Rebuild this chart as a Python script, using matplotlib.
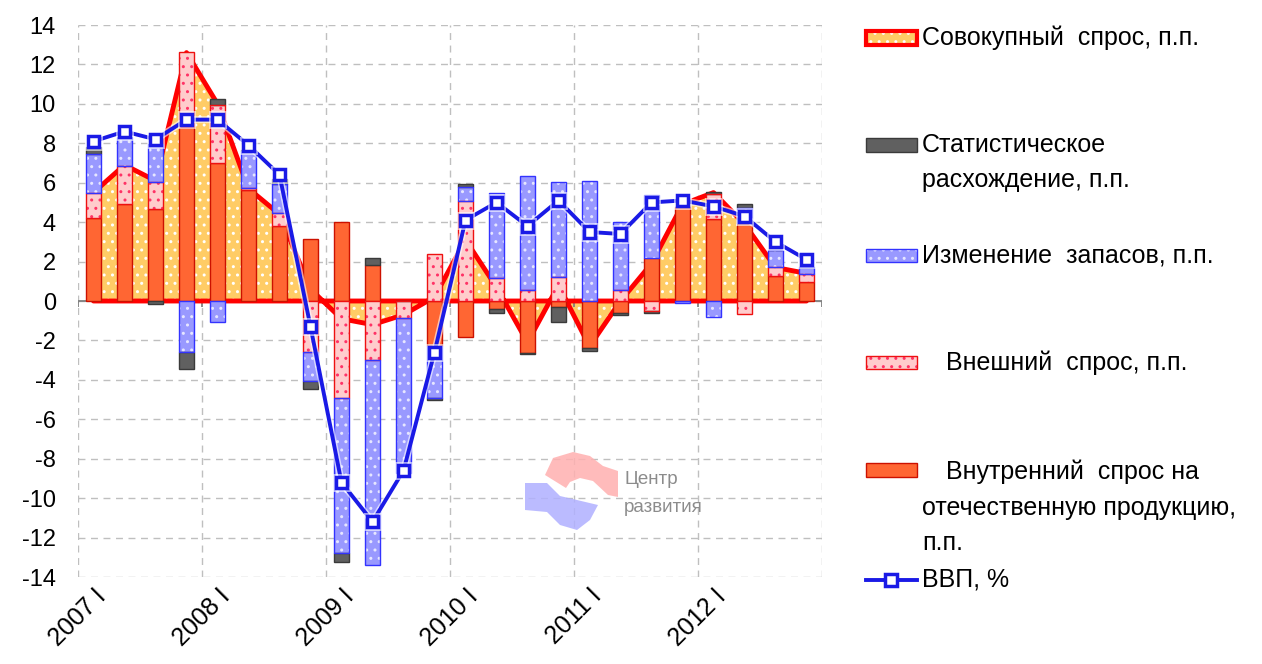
import numpy as np
import matplotlib
matplotlib.use('Agg')
import matplotlib.pyplot as plt
import matplotlib.patheffects as pe
from matplotlib.patches import Rectangle, Polygon
from matplotlib.lines import Line2D

# quarters 2007 I .. 2012 IV
quarters = ['2007 I', '2007 II', '2007 III', '2007 IV',
            '2008 I', '2008 II', '2008 III', '2008 IV',
            '2009 I', '2009 II', '2009 III', '2009 IV',
            '2010 I', '2010 II', '2010 III', '2010 IV',
            '2011 I', '2011 II', '2011 III', '2011 IV',
            '2012 I', '2012 II', '2012 III', '2012 IV']
year_labels = ['2007 I', '2008 I', '2009 I', '2010 I', '2011 I', '2012 I']

# contributions, p.p.
internal = [4.2, 4.9, 4.65, 8.85, 7.0, 5.65, 3.8, 3.15,
            4.0, 1.85, 0.0, -2.3, -1.85, -0.4, -2.65, -0.3,
            -2.4, -0.6, 2.2, 4.75, 4.15, 3.95, 1.25, 0.95]
external = [1.3, 1.95, 1.4, 3.8, 2.95, 0.1, 0.65, -2.6,
            -4.9, -3.0, -0.85, 2.4, 5.05, 1.15, 0.55, 1.2,
            0.0, 0.55, -0.5, 0.0, 1.3, -0.65, 0.45, 0.4]
inventory = [1.95, 1.45, 1.9, -2.6, -1.05, 1.85, 1.5, -1.45,
             -7.9, -10.4, -7.85, -2.6, 0.75, 4.35, 5.8, 4.85,
             6.1, 3.45, 3.2, -0.1, -0.8, 0.75, 0.9, 0.35]
stat_disc = [0.35, 0.0, -0.15, -0.85, 0.3, 0.05, 0.25, -0.4,
             -0.45, 0.35, 0.0, -0.1, 0.15, -0.2, -0.05, -0.75,
             -0.15, -0.1, -0.1, 0.0, 0.1, 0.2, 0.0, 0.05]
aggregate = [5.5, 6.9, 6.1, 12.6, 10.0, 5.7, 4.4, 0.6,
             -0.9, -1.2, -0.7, 0.2, 3.1, 0.7, -2.1, 0.8,
             -2.3, 0.0, 1.9, 4.9, 5.5, 3.9, 1.7, 1.4]
gdp = [8.1, 8.6, 8.2, 9.2, 9.2, 7.9, 6.4, -1.3,
       -9.2, -11.2, -8.6, -2.6, 4.1, 5.0, 3.8, 5.1,
       3.5, 3.4, 5.0, 5.1, 4.8, 4.3, 3.0, 2.1]

W, H = 1262, 664
plt.rcParams['font.family'] = ['Liberation Sans', 'DejaVu Sans']
plt.rcParams['hatch.linewidth'] = 1.0

fig = plt.figure(figsize=(W / 100, H / 100), dpi=100)
ax = fig.add_axes([78 / W, 1 - 577 / H, (822 - 78) / W, (577 - 25) / H])

x = np.arange(len(quarters))
width = 0.48

# aggregate demand area (behind bars)
ax.fill_between(x, 0, aggregate, facecolor='#FFCC66', edgecolor='white',
                hatch='..', linewidth=0, zorder=1)
ax.fill_between(x, 0, aggregate, facecolor='none', edgecolor='#FF0000',
                linewidth=3.5, zorder=1.5)

# stacked bars, positives go up and negatives go down (Excel style)
series = [
    (internal, '#FF6633', None, '#CC1100'),
    (external, '#FFCCCC', '#FF3366', '#EE1111'),
    (inventory, '#9999FF', '#E6E6FF', '#3333FF'),
    (stat_disc, '#606060', None, '#3A3A3A'),
]
pos = np.zeros(len(x))
neg = np.zeros(len(x))
for vals, face, hcol, edge in series:
    v = np.array(vals)
    base = np.where(v >= 0, pos, neg)
    if hcol is not None:
        ax.bar(x, v, width, bottom=base, color=face, edgecolor=hcol,
               hatch='..', linewidth=0, zorder=2)
        ax.bar(x, v, width, bottom=base, facecolor='none', edgecolor=edge,
               linewidth=1.0, zorder=2.1)
    else:
        ax.bar(x, v, width, bottom=base, color=face, edgecolor=edge,
               linewidth=1.0, zorder=2)
    pos += np.clip(v, 0, None)
    neg += np.clip(v, None, 0)

# GDP line
ax.plot(x, gdp, '-', color='#1A1AE6', linewidth=2.8, marker='s',
        markersize=8, markerfacecolor='white', markeredgecolor='#1A1AE6',
        markeredgewidth=2.5, zorder=5,
        path_effects=[pe.Stroke(linewidth=5, foreground='white', alpha=0.6), pe.Normal()])

# axes, grid
ax.set_xlim(-0.5, len(x) - 0.5)
ax.set_ylim(-14, 14)
ax.set_yticks(np.arange(-14, 15, 2))
ax.set_yticklabels([str(t) for t in np.arange(-14, 15, 2)], fontsize=17)
ax.set_xticks(np.arange(0, len(x), 4))
ax.set_xticklabels(year_labels, fontsize=18, rotation=45, ha='right',
                   rotation_mode='anchor')
ax.set_xticks(np.arange(-0.5, len(x), 4), minor=True)
ax.tick_params(axis='both', which='both', length=0)
ax.tick_params(axis='y', pad=16)
ax.tick_params(axis='x', pad=5)
ax.grid(True, axis='y', which='major', linestyle=(0, (5, 4)), color='#BFBFBF', linewidth=1)
ax.grid(True, axis='x', which='minor', linestyle=(0, (5, 4)), color='#BFBFBF', linewidth=1)
ax.set_axisbelow(True)
for s in ax.spines.values():
    s.set_visible(False)
ax.axhline(0, color='#808080', linewidth=1.3, zorder=1.2)
ax.vlines(np.arange(-0.5, len(x), 4), -0.3, 0, color='#808080', linewidth=1.3, zorder=1.2)

# watermark logo
def px(pts):
    return [(a / W, 1 - b / H) for a, b in pts]

pink = [(545, 475), (553, 458), (573, 452), (590, 456), (603, 466), (618, 471),
        (618, 497), (608, 495), (593, 481), (580, 478), (570, 482), (566, 488)]
blue = [(525, 483), (547, 483), (560, 496), (577, 500), (598, 505), (590, 520),
        (577, 530), (560, 525), (547, 512), (525, 510)]
fig.add_artist(Polygon(px(pink), closed=True, transform=fig.transFigure,
                       facecolor='#FFB0B0', edgecolor='none', alpha=0.85))
fig.add_artist(Polygon(px(blue), closed=True, transform=fig.transFigure,
                       facecolor='#B0B0FF', edgecolor='none', alpha=0.85))
fig.text(624 / W, 1 - 479 / H, 'Центр', fontsize=13.5, color='#8C8C8C', va='center')
fig.text(624 / W, 1 - 508 / H, 'развития', fontsize=13.5, color='#8C8C8C', va='center')

# legend, drawn by hand to follow the original layout
def leg_rect(y0, y1, face, edge, lw, hatch=None, hcol=None):
    if hatch:
        fig.add_artist(Rectangle((866 / W, 1 - y1 / H), 51 / W, (y1 - y0) / H,
                                 transform=fig.transFigure, facecolor=face,
                                 edgecolor=hcol, hatch=hatch, linewidth=0))
        face = 'none'
    fig.add_artist(Rectangle((866 / W, 1 - y1 / H), 51 / W, (y1 - y0) / H,
                             transform=fig.transFigure, facecolor=face,
                             edgecolor=edge, linewidth=lw))

def leg_text(xp, yp, s):
    fig.text(xp / W, 1 - yp / H, s, fontsize=18, va='center', ha='left')

leg_rect(31, 45, '#FFCC66', '#FF0000', 3, '..', 'white')
leg_text(922, 38, 'Совокупный  спрос, п.п.')
leg_rect(138, 152, '#606060', '#3A3A3A', 1)
leg_text(922, 145, 'Статистическое')
leg_text(922, 180, 'расхождение, п.п.')
leg_rect(249, 262, '#9999FF', '#3333FF', 1, '..', '#E6E6FF')
leg_text(922, 255, 'Изменение  запасов, п.п.')
leg_rect(356, 369, '#FFCCCC', '#EE1111', 1, '..', '#FF3366')
leg_text(946, 363, 'Внешний  спрос, п.п.')
leg_rect(463, 477, '#FF6633', '#CC1100', 1)
leg_text(946, 472, 'Внутренний  спрос на')
leg_text(922, 508, 'отечественную продукцию,')
leg_text(922, 543, 'п.п.')
fig.add_artist(Line2D([866 / W, 917 / W], [1 - 580 / H, 1 - 580 / H],
                      transform=fig.transFigure, color='#1A1AE6', linewidth=2.8))
fig.add_artist(Line2D([891 / W], [1 - 580 / H], transform=fig.transFigure,
                      marker='s', markersize=8, markerfacecolor='white',
                      markeredgecolor='#1A1AE6', markeredgewidth=2.5))
leg_text(922, 580, 'ВВП, %')

fig.savefig('out.png', dpi=100)
